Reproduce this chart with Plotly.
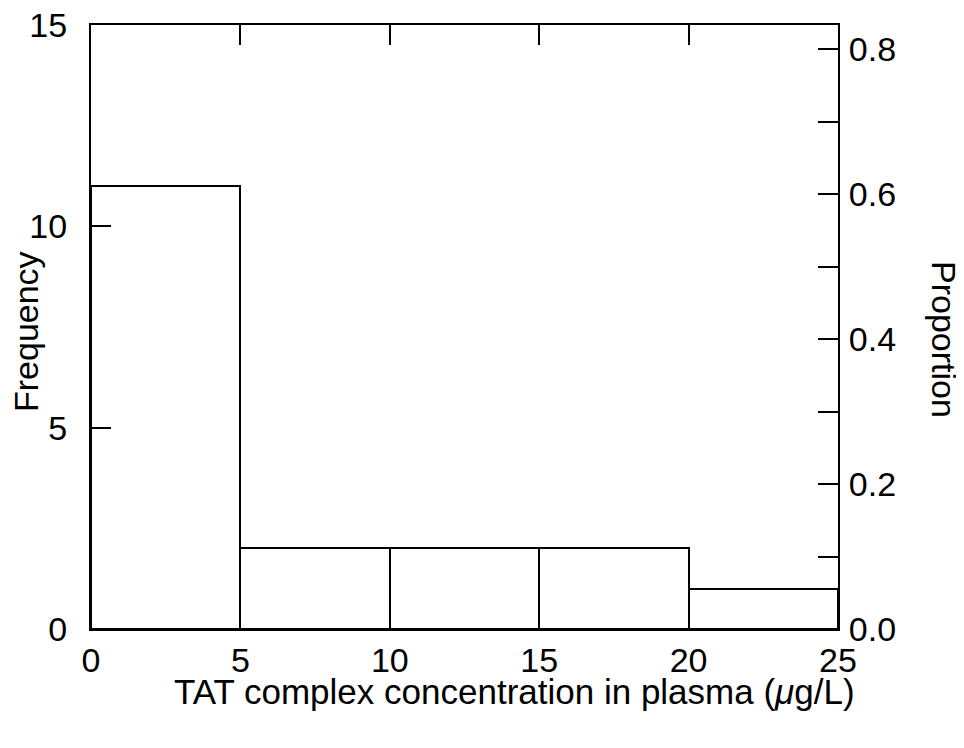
import plotly.graph_objects as go

bin_left = [0, 5, 10, 15, 20]
bin_width = 5
frequency = [11, 2, 2, 2, 1]
x_ticks = [0, 5, 10, 15, 20, 25]
y_ticks = [0, 5, 10, 15]
prop_ticks = [0.0, 0.1, 0.2, 0.3, 0.4, 0.5, 0.6, 0.7, 0.8]
prop_labels = ["0.0", "", "0.2", "", "0.4", "", "0.6", "", "0.8"]

total = sum(frequency)
centers = [b + bin_width / 2 for b in bin_left]

FONT = "Liberation Sans, Arial, Helvetica, sans-serif"
FS = 34

fig = go.Figure()
fig.add_trace(go.Bar(
    x=centers, y=frequency, width=[bin_width] * len(frequency),
    marker=dict(color="white", line=dict(color="black", width=2)),
    showlegend=False, hoverinfo="skip",
))
# invisible trace to activate right axis
fig.add_trace(go.Scatter(x=[0], y=[0], yaxis="y2", mode="markers",
                         marker=dict(opacity=0), showlegend=False, hoverinfo="skip"))

fig.update_layout(
    width=948, height=732,
    margin=dict(l=83, r=118, t=17, b=111),
    paper_bgcolor="white", plot_bgcolor="white",
    font=dict(family=FONT, size=FS, color="black"),
    bargap=0,
    xaxis=dict(
        range=[0, 25], tickvals=x_ticks, ticks="inside", ticklen=20, tickwidth=2,
        tickcolor="black", showline=True, linecolor="black", linewidth=2,
        mirror="ticks", showgrid=False, zeroline=False, ticklabelstandoff=0,
        automargin=False, ticklabeloverflow="allow",
    ),
    yaxis=dict(
        range=[0, 15], tickvals=y_ticks, ticks="inside", ticklen=20, tickwidth=2,
        tickcolor="black", showline=True, linecolor="black", linewidth=2,
        showgrid=False, zeroline=False, ticklabelstandoff=15, automargin=False,
        ticklabeloverflow="allow",
    ),
    yaxis2=dict(
        range=[0, 15 / total], overlaying="y", side="right",
        tickvals=prop_ticks, ticktext=prop_labels, ticks="inside", ticklen=20,
        tickwidth=2, tickcolor="black", showline=True, linecolor="black",
        linewidth=2, showgrid=False, zeroline=False, ticklabelstandoff=2,
        automargin=False, ticklabeloverflow="allow",
    ),
    annotations=[
        dict(text="TAT complex concentration in plasma (<i>μ</i>g/L)",
             xref="paper", yref="paper", x=0.5676, y=-0.103,
             xanchor="center", yanchor="middle", showarrow=False,
             font=dict(size=35)),
        dict(text="Frequency", xref="paper", yref="paper", x=-0.087, y=0.4917,
             xanchor="center", yanchor="middle", textangle=-90, showarrow=False,
             font=dict(size=FS)),
        dict(text="Proportion", xref="paper", yref="paper", x=1.142, y=0.48,
             xanchor="center", yanchor="middle", textangle=90, showarrow=False,
             font=dict(size=FS)),
    ],
)

fig.write_html("out.html")
